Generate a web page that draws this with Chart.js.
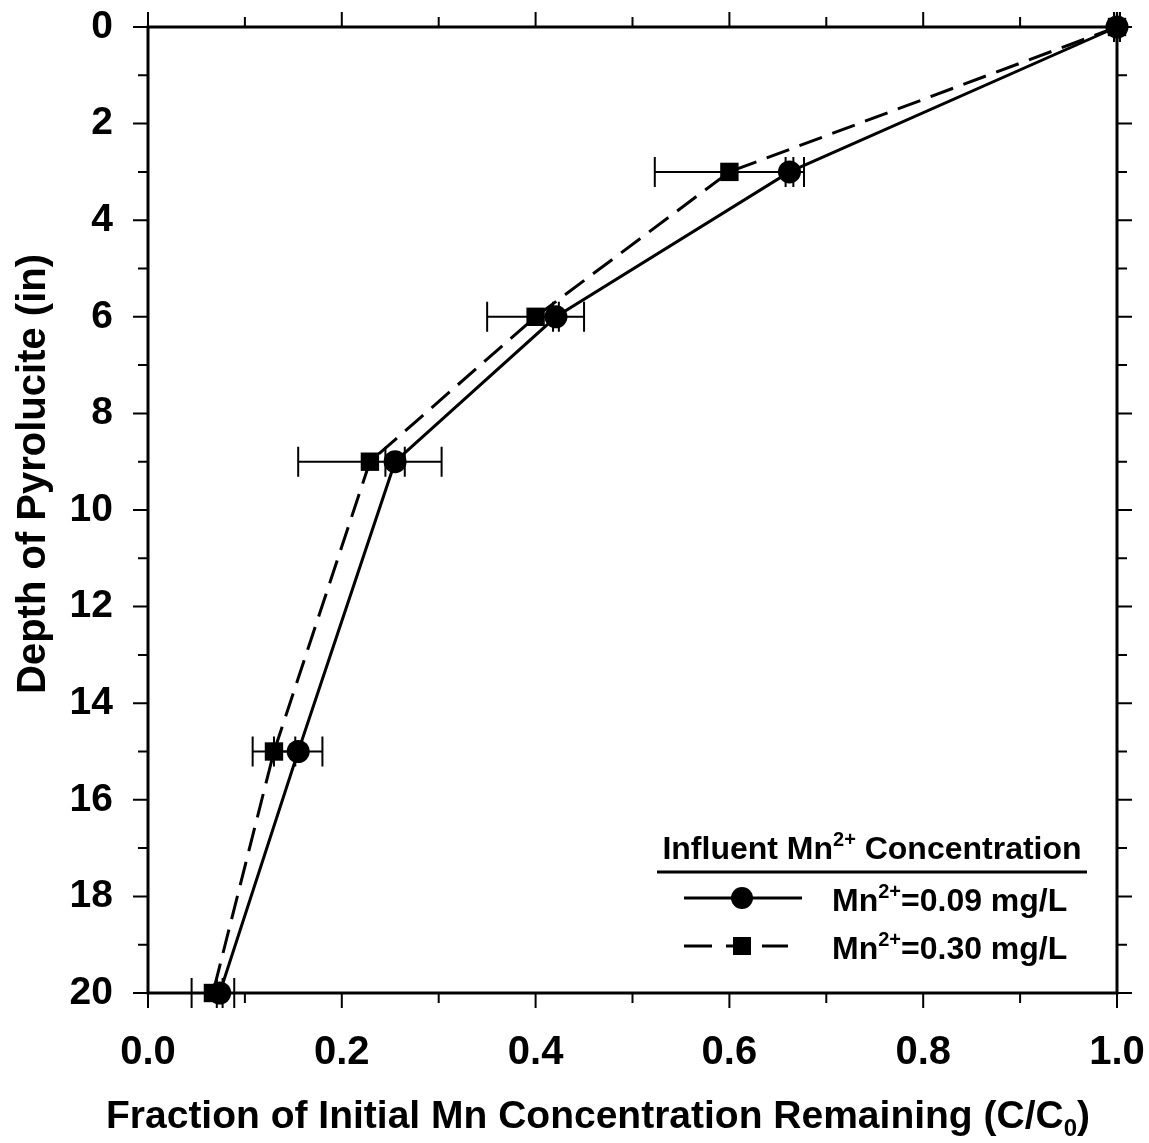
<!DOCTYPE html>
<html>
<head>
<meta charset="utf-8">
<script src="https://cdn.jsdelivr.net/npm/chart.js@4.4.1/dist/chart.umd.min.js"></script>
<style>
  html, body { margin: 0; padding: 0; background: #fff; }
  #wrap { width: 1149px; height: 1143px; }
</style>
</head>
<body>
<div id="wrap"><canvas id="depthChart" width="1149" height="1143"></canvas></div>
<script>
// depth of pyrolucite (in) and C/C0 for each influent concentration
const depths = [0, 3, 6, 9, 15, 20];
const lowConc = [1.0, 0.662, 0.421, 0.255, 0.155, 0.074];
const lowErr = [0.003, 0.004, 0.003, 0.010, 0.025, 0.003];
const highConc = [1.0, 0.600, 0.400, 0.229, 0.130, 0.067];
const highErr = [0.003, 0.077, 0.050, 0.074, 0.022, 0.022];
const seriesLabels = ['Mn^{2+}=0.09 mg/L', 'Mn^{2+}=0.30 mg/L'];
const legendTitle = 'Influent Mn^{2+} Concentration';
const xTitle = 'Fraction of Initial Mn Concentration Remaining (C/C_{0})';
const yTitle = 'Depth of Pyrolucite (in)';
const xMajor = [0, 0.2, 0.4, 0.6, 0.8, 1.0];
const xMinor = [0.1, 0.3, 0.5, 0.7, 0.9];
const yMajor = [0, 2, 4, 6, 8, 10, 12, 14, 16, 18, 20];
const yMinor = [1, 3, 5, 7, 9, 11, 13, 15, 17, 19];

const FONT = '"Liberation Sans", Arial, Helvetica, sans-serif';
const DASH = [24, 11];

// split 'a^{b}c_{d}' into plain / sup / sub parts
function parseRich(str) {
    const parts = [];
    const re = /([\^_])\{([^}]*)\}/g;
    let last = 0, m;
    while ((m = re.exec(str)) !== null) {
        if (m.index > last) parts.push({ t: str.slice(last, m.index), k: 'n' });
        parts.push({ t: m[2], k: m[1] === '^' ? 'sup' : 'sub' });
        last = re.lastIndex;
    }
    if (last < str.length) parts.push({ t: str.slice(last), k: 'n' });
    return parts;
}

function richWidth(ctx, parts, size) {
    let w = 0;
    parts.forEach(p => {
        ctx.font = 'bold ' + (p.k === 'n' ? size : Math.round(size * 0.62)) + 'px ' + FONT;
        w += ctx.measureText(p.t).width;
    });
    return w;
}

function drawRich(ctx, str, x, y, size, align) {
    const parts = parseRich(str);
    let cx = x;
    if (align === 'center') cx = x - richWidth(ctx, parts, size) / 2;
    ctx.textBaseline = 'alphabetic';
    ctx.textAlign = 'left';
    parts.forEach(p => {
        const s = p.k === 'n' ? size : Math.round(size * 0.62);
        ctx.font = 'bold ' + s + 'px ' + FONT;
        let dy = 0;
        if (p.k === 'sup') dy = -size * 0.42;
        if (p.k === 'sub') dy = size * 0.2;
        ctx.fillText(p.t, cx, y + dy);
        cx += ctx.measureText(p.t).width;
    });
    return cx;
}

const errorBars = {
    id: 'errorBars',
    beforeDatasetsDraw(chart) {
        const { ctx, scales: { x, y } } = chart;
        const errs = [highErr, lowErr];
        ctx.save();
        ctx.strokeStyle = '#000';
        ctx.lineWidth = 2;
        chart.data.datasets.forEach((ds, i) => {
            ds.data.forEach((pt, j) => {
                const e = errs[i][j];
                const x1 = x.getPixelForValue(pt.x - e);
                const x2 = x.getPixelForValue(pt.x + e);
                const py = y.getPixelForValue(pt.y);
                ctx.beginPath();
                ctx.moveTo(x1, py); ctx.lineTo(x2, py);
                ctx.moveTo(x1, py - 15); ctx.lineTo(x1, py + 15);
                ctx.moveTo(x2, py - 15); ctx.lineTo(x2, py + 15);
                ctx.stroke();
            });
        });
        ctx.restore();
    }
};

const frame = {
    id: 'frame',
    beforeDatasetsDraw(chart) {
        const { ctx, chartArea: a, scales: { x, y } } = chart;
        ctx.save();
        ctx.strokeStyle = '#000';
        ctx.lineWidth = 3;
        ctx.strokeRect(a.left, a.top, a.right - a.left, a.bottom - a.top);

        ctx.lineWidth = 2;
        ctx.beginPath();
        const tickX = (v, len) => {
            const px = x.getPixelForValue(v);
            ctx.moveTo(px, a.bottom); ctx.lineTo(px, a.bottom + len);
            ctx.moveTo(px, a.top); ctx.lineTo(px, a.top - len);
        };
        const tickY = (v, len) => {
            const py = y.getPixelForValue(v);
            ctx.moveTo(a.left, py); ctx.lineTo(a.left - len, py);
            ctx.moveTo(a.right, py); ctx.lineTo(a.right + len, py);
        };
        xMajor.forEach(v => tickX(v, 15));
        xMinor.forEach(v => tickX(v, 10));
        yMajor.forEach(v => tickY(v, 15));
        yMinor.forEach(v => tickY(v, 10));
        ctx.stroke();
        ctx.restore();
    },
    afterDraw(chart) {
        const { ctx } = chart;
        ctx.save();
        ctx.strokeStyle = '#000';
        ctx.fillStyle = '#000';

        // axis titles
        drawRich(ctx, xTitle, 598, 1128, 39, 'center');
        ctx.save();
        ctx.translate(45, 474);
        ctx.rotate(-Math.PI / 2);
        drawRich(ctx, yTitle, 0, 0, 40, 'center');
        ctx.restore();

        // legend
        drawRich(ctx, legendTitle, 872, 859, 32, 'center');
        ctx.lineWidth = 3;
        ctx.beginPath();
        ctx.moveTo(657, 872); ctx.lineTo(1087, 872);
        ctx.stroke();

        ctx.beginPath();
        ctx.moveTo(684, 898); ctx.lineTo(802, 898);
        ctx.stroke();
        ctx.beginPath();
        ctx.arc(742, 898, 11, 0, Math.PI * 2);
        ctx.fill();
        drawRich(ctx, seriesLabels[0], 832, 911, 32, 'left');

        ctx.beginPath();
        ctx.moveTo(684, 946); ctx.lineTo(712, 946);
        ctx.moveTo(726, 946); ctx.lineTo(735, 946);
        ctx.moveTo(762, 946); ctx.lineTo(788, 946);
        ctx.stroke();
        ctx.fillRect(733, 937, 18, 18);
        drawRich(ctx, seriesLabels[1], 832, 959, 32, 'left');
        ctx.restore();
    }
};

const toPoints = (vals) => vals.map((v, i) => ({ x: v, y: depths[i] }));

// stop the label overhang from shrinking the plot area
const noOverhang = s => {
    s.paddingTop = 0; s.paddingBottom = 0; s.paddingLeft = 0; s.paddingRight = 0;
};

new Chart(document.getElementById('depthChart'), {
    type: 'scatter',
    data: {
        datasets: [
            {
                label: 'Mn2+=0.30 mg/L',
                data: toPoints(highConc),
                showLine: true,
                clip: false,
                borderColor: '#000',
                borderWidth: 3,
                borderDash: DASH,
                backgroundColor: '#000',
                pointStyle: 'rect',
                pointRadius: 13,
                pointBorderWidth: 0
            },
            {
                label: 'Mn2+=0.09 mg/L',
                data: toPoints(lowConc),
                showLine: true,
                clip: false,
                borderColor: '#000',
                borderWidth: 3,
                backgroundColor: '#000',
                pointStyle: 'circle',
                pointRadius: 11.5,
                pointBorderWidth: 0
            }
        ]
    },
    options: {
        responsive: false,
        animation: false,
        devicePixelRatio: 1,
        layout: { padding: { top: 27, right: 32, left: 0, bottom: 0 } },
        plugins: { legend: { display: false }, tooltip: { enabled: false } },
        scales: {
            x: {
                type: 'linear',
                min: 0,
                max: 1,
                afterFit: s => { s.height = 150; noOverhang(s); },
                afterBuildTicks: s => { s.ticks = xMajor.map(v => ({ value: v })); },
                grid: { display: false, drawTicks: false },
                border: { display: false },
                ticks: {
                    color: '#000',
                    padding: 36,
                    font: { family: FONT, size: 40, weight: 'bold' },
                    callback: v => v.toFixed(1)
                }
            },
            y: {
                type: 'linear',
                reverse: true,
                min: 0,
                max: 20,
                afterFit: s => { s.width = 148; noOverhang(s); },
                afterBuildTicks: s => { s.ticks = yMajor.map(v => ({ value: v })); },
                grid: { display: false, drawTicks: false },
                border: { display: false },
                ticks: {
                    color: '#000',
                    padding: 35,
                    font: { family: FONT, size: 39, weight: 'bold' },
                    callback: v => String(v)
                }
            }
        }
    },
    plugins: [frame, errorBars]
});
</script>
</body>
</html>
